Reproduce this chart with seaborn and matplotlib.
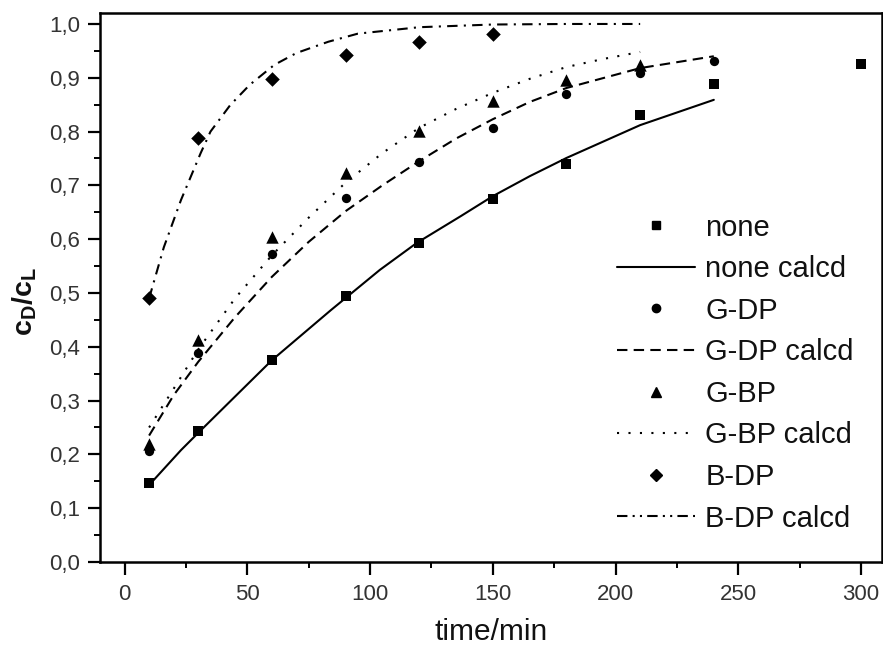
import numpy as np
import pandas as pd
import seaborn as sns
import matplotlib
matplotlib.use("Agg")
import matplotlib.pyplot as plt
from matplotlib.lines import Line2D
from matplotlib.ticker import MultipleLocator, FuncFormatter

# ---- measured points ----
t_none = [10, 30, 60, 90, 120, 150, 180, 210, 240, 300]
y_none = [0.147, 0.243, 0.375, 0.494, 0.592, 0.674, 0.740, 0.831, 0.889, 0.926]

t_gdp = [10, 30, 60, 90, 120, 150, 180, 210, 240]
y_gdp = [0.207, 0.388, 0.572, 0.676, 0.743, 0.807, 0.870, 0.909, 0.931]

t_gbp = [10, 30, 60, 90, 120, 150, 180, 210]
y_gbp = [0.219, 0.413, 0.604, 0.723, 0.801, 0.856, 0.896, 0.924]

t_bdp = [10, 30, 60, 90, 120, 150]
y_bdp = [0.490, 0.788, 0.898, 0.942, 0.967, 0.981]

# ---- calculated curves ----
tc_none = [10, 23, 30, 60, 84, 104, 119, 137, 150, 165, 180, 210, 240]
yc_none = [0.143, 0.208, 0.240, 0.375, 0.468, 0.543, 0.593, 0.643, 0.680, 0.717, 0.751, 0.812, 0.859]

tc_gdp = [10, 20, 30, 45, 60, 75, 90, 105, 120, 135, 150, 165, 180, 210, 240]
yc_gdp = [0.235, 0.310, 0.372, 0.455, 0.530, 0.595, 0.652, 0.700, 0.745, 0.787, 0.823, 0.855, 0.881, 0.918, 0.940]

tc_gbp = [10, 20, 30, 45, 60, 75, 90, 105, 120, 135, 150, 165, 180, 195, 210]
yc_gbp = [0.250, 0.322, 0.395, 0.490, 0.570, 0.640, 0.705, 0.760, 0.807, 0.842, 0.872, 0.898, 0.920, 0.935, 0.948]

tc_bdp = [10, 16, 23, 31, 35, 43, 51, 61, 70, 83, 95, 120, 150, 180, 210]
yc_bdp = [0.490, 0.585, 0.673, 0.760, 0.800, 0.849, 0.887, 0.924, 0.946, 0.967, 0.982, 0.994, 0.999, 1.000, 1.000]

labels = ["none", "none calcd", "G-DP", "G-DP calcd", "G-BP", "G-BP calcd", "B-DP", "B-DP calcd"]
xticks = [0, 50, 100, 150, 200, 250, 300]
yticks = [0.0, 0.1, 0.2, 0.3, 0.4, 0.5, 0.6, 0.7, 0.8, 0.9, 1.0]

sns.set_style("ticks")
plt.rcParams['font.family'] = ['Liberation Sans', 'DejaVu Sans']
plt.rcParams['mathtext.fontset'] = 'custom'
plt.rcParams['mathtext.rm'] = 'Liberation Sans'
plt.rcParams['mathtext.bf'] = 'Liberation Sans:bold'
plt.rcParams['mathtext.it'] = 'Liberation Sans:italic'

fig = plt.figure(figsize=(8.83, 6.48), dpi=100)
ax = fig.add_axes([100/883, 1-562/648, 782/883, (562-13)/648])

lw = 1.5
dash_gdp = (0, (5, 3))
dot_gbp = (0, (1, 4.5))
dashdot_bdp = (0, (5, 3, 1, 3))

sns.lineplot(x=tc_none, y=yc_none, ax=ax, color='black', lw=lw, linestyle='-', sort=False)
sns.lineplot(x=tc_gdp, y=yc_gdp, ax=ax, color='black', lw=lw, linestyle=dash_gdp, sort=False)
sns.lineplot(x=tc_gbp, y=yc_gbp, ax=ax, color='black', lw=lw, linestyle=dot_gbp, sort=False)
sns.lineplot(x=tc_bdp, y=yc_bdp, ax=ax, color='black', lw=lw, linestyle=dashdot_bdp, sort=False)

sns.scatterplot(x=t_none, y=y_none, ax=ax, marker='s', s=50, color='black', edgecolor='black', linewidth=0)
sns.scatterplot(x=t_gdp, y=y_gdp, ax=ax, marker='o', s=45, color='black', edgecolor='black', linewidth=0)
sns.scatterplot(x=t_gbp, y=y_gbp, ax=ax, marker='^', s=80, color='black', edgecolor='black', linewidth=0)
sns.scatterplot(x=t_bdp, y=y_bdp, ax=ax, marker='D', s=55, color='black', edgecolor='black', linewidth=0)

ax.set_xlim(-10, 308.5)
ax.set_ylim(0, 1.0204)
ax.set_xticks(xticks)
ax.set_yticks(yticks)
ax.xaxis.set_minor_locator(MultipleLocator(25))
ax.yaxis.set_minor_locator(MultipleLocator(0.05))
ax.yaxis.set_major_formatter(FuncFormatter(lambda v, p: f"{v:.1f}".replace('.', ',')))
ax.tick_params(which='major', direction='out', length=9, width=1.6, labelsize=16,
               labelcolor='#333333', color='black')
ax.tick_params(axis='y', which='major', pad=5.5)
ax.tick_params(axis='x', which='major', pad=7)
ax.tick_params(which='minor', direction='out', length=4.5, width=1.4, color='black')
ax.tick_params(top=False, right=False, which='both')
for s in ax.spines.values():
    s.set_linewidth(1.8)
    s.set_color('black')

ax.set_xlabel('time/min', fontsize=21.5, labelpad=9, color='#111111')
ax.set_ylabel(r'$\mathbf{c}_\mathbf{D}\mathbf{/c}_\mathbf{L}$', fontsize=20.5, labelpad=4, color='#111111')
ax.yaxis.set_label_coords(-0.078, 0.475)

handles = [
    Line2D([], [], color='black', marker='s', linestyle='none', markersize=6),
    Line2D([], [], color='black', lw=lw, linestyle='-'),
    Line2D([], [], color='black', marker='o', linestyle='none', markersize=6),
    Line2D([], [], color='black', lw=lw, linestyle=dash_gdp),
    Line2D([], [], color='black', marker='^', linestyle='none', markersize=7.5),
    Line2D([], [], color='black', lw=lw, linestyle=dot_gbp),
    Line2D([], [], color='black', marker='D', linestyle='none', markersize=6),
    Line2D([], [], color='black', lw=lw, linestyle=(0, (5, 2.5, 1, 2.5, 1, 2.5))),
]
leg = ax.legend(handles, labels, loc='upper left', bbox_to_anchor=(602/883, 1-199/648),
                bbox_transform=fig.transFigure, frameon=False, fontsize=21,
                handlelength=2.7, handletextpad=0.34, labelspacing=0.465, borderpad=0)
for txt in leg.get_texts():
    txt.set_color('#111111')

fig.savefig('out.png', dpi=100)
